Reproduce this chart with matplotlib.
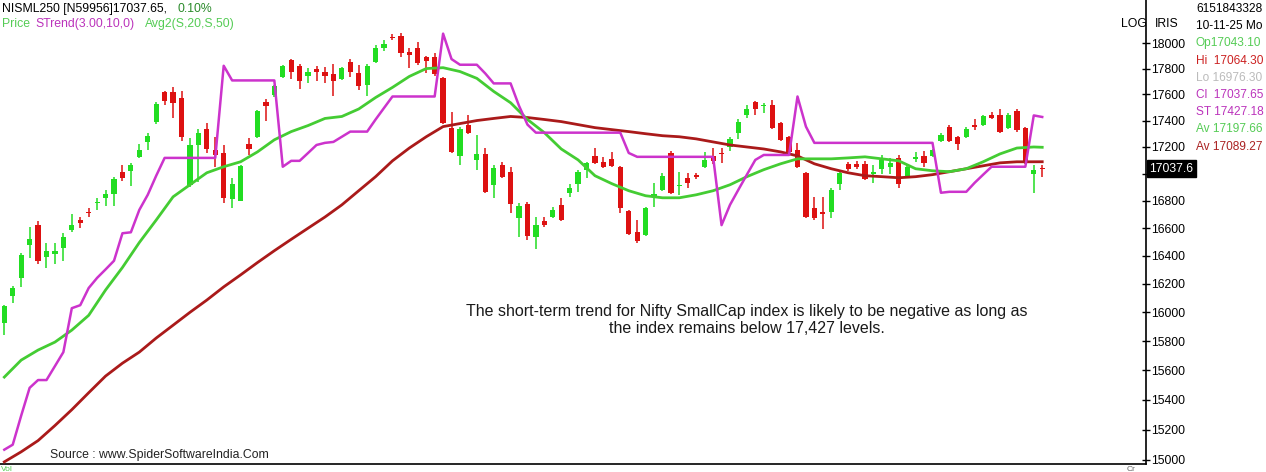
import numpy as np
import matplotlib
matplotlib.use("Agg")
import matplotlib.pyplot as plt
from matplotlib.ticker import NullLocator, FixedLocator, FixedFormatter
import matplotlib.transforms as mtransforms

plt.rcParams['font.family'] = ['Liberation Sans', 'DejaVu Sans']

# ---- daily candles ----
opens = [15925, 16115, 16245, 16480, 16620, 16395, 16415, 16460, 16585, 16660,
         16720, 16785, 16822, 16852, 17015, 17022, 17126, 17238, 17392, 17615,
         17615, 17576, 16918, 17215, 17339, 17177, 17155, 16815, 16800, 17223,
         17277, 17544, 17592, 17731, 17867, 17822, 17739, 17800, 17777, 17754,
         17716, 17852, 17762, 17670, 17852, 17963, 18044, 18059, 17926, 17963,
         17889, 17889, 17724, 17346, 17133, 17369, 17103, 17148, 16918, 17067,
         17015, 16674, 16778, 16533, 16652, 16681, 16770, 16859, 16926, 17030,
         17133, 17089, 17111, 17052, 16726, 16570, 16548, 16837, 16882, 17155,
         16911, 16970, 16993, 17052, 17133, 17155, 17200, 17308, 17439, 17544,
         17512, 17520, 17385, 17277, 17177, 17007, 16748, 16719, 16719, 16926,
         17074, 17074, 17074, 17000, 17037, 17052, 17118, 16978, 17111, 17133,
         17133, 17246, 17354, 17277, 17277, 17369, 17369, 17446, 17446, 17346,
         17472, 17346, 17000, 17043.10]
highs = [16050, 16185, 16420, 16605, 16650, 16495, 16495, 16565, 16705, 16680,
         16750, 16822, 16882, 16978, 17067, 17081, 17223, 17308, 17544, 17623,
         17654, 17623, 17269, 17339, 17385, 17277, 17215, 16970, 17067, 17269,
         17480, 17568, 17670, 17830, 17874, 17837, 17807, 17822, 17815, 17837,
         17815, 17874, 17830, 17837, 17985, 18022, 18074, 18081, 17963, 18007,
         17897, 17919, 17731, 17462, 17354, 17446, 17292, 17192, 17067, 17089,
         17052, 16785, 16793, 16681, 16681, 16755, 16822, 16926, 17030, 17089,
         17192, 17126, 17163, 17059, 16733, 16659, 16755, 16933, 17007, 17170,
         17015, 17007, 17007, 17163, 17192, 17192, 17277, 17408, 17520, 17552,
         17536, 17560, 17392, 17285, 17231, 17015, 16829, 16829, 16896, 17030,
         17089, 17096, 17096, 17067, 17140, 17118, 17140, 17067, 17163, 17170,
         17185, 17308, 17369, 17285, 17354, 17408, 17439, 17462, 17488, 17454,
         17488, 17354, 17067, 17064.30]
lows = [15840, 16065, 16180, 16385, 16345, 16310, 16345, 16365, 16570, 16600,
        16680, 16733, 16763, 16763, 16948, 16911, 17119, 17177, 17377, 17520,
        17416, 17246, 16903, 16941, 17155, 17052, 16785, 16748, 16800, 17140,
        17270, 17400, 17580, 17724, 17716, 17639, 17685, 17700, 17685, 17584,
        17708, 17731, 17631, 17584, 17845, 17941, 18022, 17889, 17807, 17830,
        17769, 17739, 17370, 17155, 17067, 17300, 17030, 16859, 16822, 16970,
        16711, 16533, 16511, 16452, 16607, 16674, 16652, 16829, 16866, 16970,
        17074, 17044, 17052, 16711, 16548, 16489, 16541, 16755, 16874, 16852,
        16845, 16896, 16963, 17044, 17074, 17081, 17170, 17261, 17423, 17446,
        17454, 17339, 17246, 17155, 17044, 16674, 16659, 16593, 16674, 16882,
        17022, 17037, 16956, 16933, 17000, 17000, 16896, 16970, 17089, 17052,
        17126, 17238, 17238, 17177, 17269, 17331, 17362, 17408, 17308, 17339,
        17316, 17074, 16859, 16976.30]
closes = [16045, 16170, 16405, 16520, 16365, 16435, 16435, 16535, 16620, 16640,
          16712, 16793, 16852, 16963, 16970, 17067, 17177, 17285, 17528, 17552,
          17536, 17277, 17215, 17308, 17185, 17140, 16822, 16926, 17059, 17185,
          17472, 17512, 17662, 17822, 17777, 17700, 17777, 17777, 17746, 17700,
          17807, 17777, 17662, 17822, 17963, 17993, 18037, 17919, 17904, 17845,
          17859, 17754, 17385, 17163, 17339, 17308, 17148, 16866, 17044, 16978,
          16778, 16763, 16541, 16622, 16622, 16733, 16659, 16896, 17015, 17081,
          17081, 17052, 17059, 16748, 16556, 16504, 16748, 16852, 16985, 16859,
          16918, 16933, 16978, 17103, 17096, 17148, 17261, 17392, 17488, 17488,
          17520, 17346, 17254, 17163, 17052, 16681, 16674, 16704, 16882, 17007,
          17037, 17052, 16963, 17015, 17103, 17081, 16926, 17052, 17126, 17081,
          17177, 17292, 17246, 17223, 17339, 17354, 17431, 17416, 17316, 17446,
          17331, 17081, 17030, 17037.65]

# ---- SuperTrend(3,10) per candle ----
strend = [15067, 15100, 15293, 15480, 15533, 15533, 15628, 15724, 16029, 16050,
          16171, 16243, 16303, 16365, 16563, 16570, 16733, 16844, 16985, 17118,
          17118, 17118, 17118, 17118, 17118, 17118, 17822, 17708, 17708, 17708,
          17708, 17708, 17708, 17052, 17096, 17096, 17155, 17215, 17231, 17238,
          17277, 17316, 17316, 17316, 17408, 17496, 17584, 17584, 17584, 17584,
          17584, 17584, 18074, 17874, 17830, 17830, 17830, 17762, 17685, 17685,
          17685, 17512, 17369, 17308, 17308, 17308, 17308, 17308, 17308, 17308,
          17308, 17308, 17308, 17308, 17155, 17126, 17126, 17126, 17126, 17126,
          17126, 17126, 17126, 17126, 17126, 16622, 16770, 16882, 16993, 17103,
          17140, 17140, 17140, 17140, 17584, 17354, 17231, 17231, 17231, 17231,
          17231, 17231, 17231, 17231, 17231, 17231, 17231, 17231, 17231, 17231,
          17231, 16859, 16866, 16866, 16866, 16933, 16993, 17052, 17052, 17052,
          17052, 17052, 17439, 17427.18]

# ---- moving averages, read every 2nd candle ----
ma_idx = list(range(0, 123, 2)) + [123]
ma20 = [15553, 15669, 15738, 15793, 15876, 15979, 16157, 16317, 16496, 16659,
        16829, 16918, 17007, 17052, 17089, 17163, 17254, 17316, 17362, 17416,
        17431, 17488, 17576, 17654, 17739, 17800, 17807, 17777, 17724, 17623,
        17536, 17408, 17308, 17185, 17103, 16985, 16926, 16874, 16837, 16822,
        16822, 16844, 16874, 16918, 16978, 17030, 17074, 17111, 17111, 17111,
        17118, 17126, 17111, 17096, 17037, 17022, 17015, 17037, 17089, 17148,
        17192, 17200, 17197.66]
ma50 = [14987, 15053, 15127, 15227, 15333, 15447, 15560, 15648, 15724, 15821,
        15910, 16000, 16086, 16179, 16264, 16352, 16437, 16519, 16600, 16681,
        16770, 16874, 16978, 17096, 17192, 17277, 17354, 17377, 17400, 17416,
        17431, 17423, 17408, 17392, 17369, 17346, 17331, 17316, 17300, 17285,
        17277, 17261, 17238, 17215, 17200, 17185, 17163, 17133, 17074, 17037,
        17007, 16985, 16978, 16970, 16978, 16993, 17015, 17037, 17059, 17081,
        17089, 17089, 17089.27]

yticks = [15000, 15200, 15400, 15600, 15800, 16000, 16200, 16400, 16600,
          16800, 17000, 17200, 17400, 17600, 17800, 18000]

W, H = 1266, 472
fig = plt.figure(figsize=(W / 100, H / 100), dpi=100)
ax = fig.add_axes([0, 8 / H, 1146 / W, 464 / H])

n = len(closes)
x = np.arange(n)
o = np.array(opens); c = np.array(closes)
hi = np.array(highs); lo = np.array(lows)
up = c >= o
cols = np.where(up, '#22dd22', '#dd1111')

ax.vlines(x, lo, hi, colors=cols, linewidth=1.1, zorder=2)
bot = np.minimum(o, c)
hgt = np.maximum(np.abs(c - o), 4)
ax.bar(x, hgt, bottom=bot, width=0.62, color=cols, linewidth=0, zorder=2)

ax.plot(ma_idx, ma50, color='#aa1a1a', lw=2, zorder=3)
ax.plot(ma_idx, ma20, color='#44cc33', lw=2, zorder=3)
ax.plot(x, strend, color='#cc33cc', lw=1.8, zorder=3)

ax.set_yscale('log')
ax.set_ylim(14973, 18342)
ax.set_xlim(-0.51, 135.3)
ax.yaxis.set_major_locator(FixedLocator(yticks))
ax.yaxis.set_major_formatter(FixedFormatter([str(t) if t != 17000 else '' for t in yticks]))
ax.yaxis.set_minor_locator(NullLocator())
ax.yaxis.tick_right()
ax.tick_params(axis='y', direction='inout', length=6, width=1, labelsize=8.8, pad=1)
ax.set_xticks([])
for s in ['left', 'top']:
    ax.spines[s].set_visible(False)
ax.spines['right'].set_linewidth(1.2)
ax.spines['bottom'].set_linewidth(1.2)

# last price tag on the axis
trans = mtransforms.blended_transform_factory(ax.transAxes, ax.transData)
ax.text(1.003, closes[-1], '17037.6', transform=trans, color='white', fontsize=8.8,
        va='center', ha='left', clip_on=False,
        bbox=dict(boxstyle='square,pad=0.2', fc='black', ec='black'), zorder=5)

def px(xp, yp):
    return xp / W, 1 - yp / H

# header
fig.text(*px(2, 9), 'NISML250 [N59956]17037.65,', fontsize=8.8, color='black', va='center')
fig.text(*px(177, 9), '0.10%', fontsize=8.8, color='#2a8a2a', va='center')
fig.text(*px(2, 24), 'Price', fontsize=8.8, color='#55cc55', va='center')
fig.text(*px(35, 24), 'STrend(3.00,10,0)', fontsize=8.8, color='#bb33bb', va='center')
fig.text(*px(145, 24), 'Avg2(S,20,S,50)', fontsize=8.8, color='#55cc55', va='center')

fig.text(*px(1121, 24), 'LOG', fontsize=8.8, color='black', va='center')
fig.text(*px(1155, 24), 'IRIS', fontsize=8.8, color='black', va='center')

panel = [('6151843328', 'black'), ('10-11-25 Mo', 'black'),
         ('Op17043.10', '#55cc55'), ('Hi  17064.30', '#cc2222'),
         ('Lo 16976.30', '#bbbbbb'), ('Cl  17037.65', '#bb33bb'),
         ('ST 17427.18', '#bb33bb'), ('Av 17197.66', '#55cc55'),
         ('Av 17089.27', '#aa2222')]
for i, (t, col) in enumerate(panel):
    fig.text(*px(1196, 9 + 17.2 * i), t, fontsize=8.6, color=col, va='center')

fig.text(*px(747, 320), 'The short-term trend for Nifty SmallCap index is likely to be negative as long as\n'
         'the index remains below 17,427 levels.', fontsize=11.5, color='#1a1a1a',
         ha='center', va='center', linespacing=1.2)
fig.text(*px(50, 455), 'Source : www.SpiderSoftwareIndia.Com', fontsize=8.8, color='#222222', va='center')
fig.text(*px(1, 471), 'Vol', fontsize=6, color='#55cc55', va='baseline')
fig.text(*px(1127, 471), 'Cr', fontsize=6, color='#666666', va='baseline')

fig.savefig('out.png', dpi=100)
